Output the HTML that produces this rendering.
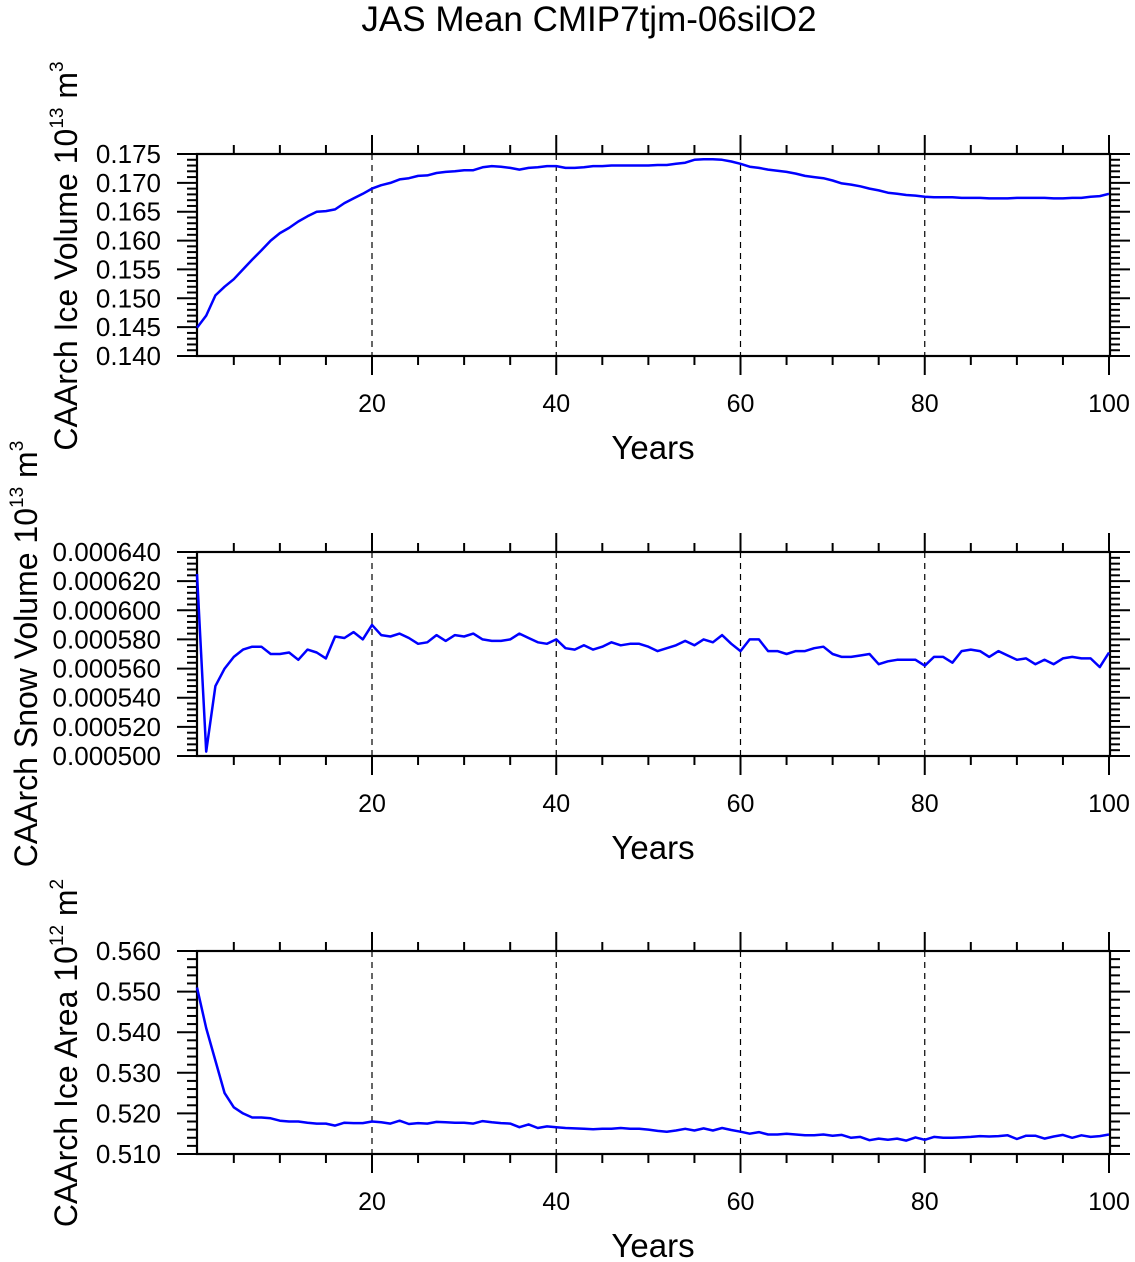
<!DOCTYPE html>
<html><head><meta charset="utf-8"><style>
html,body{margin:0;padding:0;background:#fff}
svg{display:block}
text{font-family:"Liberation Sans",Helvetica,Arial,sans-serif;fill:#000}
</style></head><body>
<svg id="s" width="1135" height="1262" viewBox="0 0 1135 1262" xmlns="http://www.w3.org/2000/svg">
<text x="589" y="31" font-size="35" text-anchor="middle">JAS Mean CMIP7tjm-06silO2</text>
</svg>
<script>
const S=document.getElementById('s');let h='';
const X0=197,X1=1110;const xs=y=>187.75+9.2125*y;
function panel(top,bot,vmin,vmax,nmaj,nsub,fmt,data,title,tx,sup){
  const yv=v=>bot-(v-vmin)/(vmax-vmin)*(bot-top);
  [20,40,60,80].forEach(y=>{h+=`<line x1="${xs(y)}" y1="${top}" x2="${xs(y)}" y2="${bot}" stroke="#000" stroke-width="1.2" stroke-dasharray="6,5"/>`;});
  for(let y=5;y<=100;y+=5){const x=xs(y);const maj=y%20==0;const L=maj?19:9;
    h+=`<line x1="${x}" y1="${top}" x2="${x}" y2="${top-L}" stroke="#000" stroke-width="2"/><line x1="${x}" y1="${bot}" x2="${x}" y2="${bot+L}" stroke="#000" stroke-width="2"/>`;
    if(maj)h+=`<text x="${x}" y="${bot+56}" font-size="25" text-anchor="middle">${y}</text>`;}
  const nm=nmaj*nsub;
  for(let i=0;i<=nm;i++){const v=vmin+(vmax-vmin)*i/nm;const y=yv(v);const maj=i%nsub==0;const L=maj?20:10;
    h+=`<line x1="${X0-L}" y1="${y}" x2="${X0}" y2="${y}" stroke="#000" stroke-width="2"/><line x1="${X1}" y1="${y}" x2="${X1+L}" y2="${y}" stroke="#000" stroke-width="2"/>`;
    if(maj)h+=`<text x="161" y="${y+9}" font-size="26" text-anchor="end">${fmt(v)}</text>`;}
  h+=`<rect x="${X0}" y="${top}" width="${X1-X0}" height="${bot-top}" fill="none" stroke="#000" stroke-width="2.2"/>`;
  h+=`<polyline fill="none" stroke="#0000ff" stroke-width="2.5" stroke-linejoin="round" points="${data.map((v,i)=>xs(i+1).toFixed(1)+','+yv(v).toFixed(1)).join(' ')}"/>`;
  h+=`<text x="653" y="${bot+103}" font-size="33" text-anchor="middle">Years</text>`;
  const cy=(title[1]);
  h+=`<text transform="translate(${tx},${cy}) rotate(-90)" font-size="32" text-anchor="middle">${title[0]} 10<tspan font-size="19" dy="-14">${sup[0]}</tspan><tspan dy="14"> m</tspan><tspan font-size="19" dy="-14">${sup[1]}</tspan></text>`;
}
const d1=[0.1449,0.147,0.1505,0.152,0.1533,0.155,0.1567,0.1583,0.160,0.1613,0.1622,0.1633,0.1642,0.165,0.1651,0.1654,0.1665,0.1673,0.1681,0.169,0.1696,0.17,0.1706,0.1708,0.1712,0.1713,0.1717,0.1719,0.172,0.1722,0.1722,0.1727,0.1729,0.1728,0.1726,0.1723,0.1726,0.1727,0.1729,0.1729,0.1726,0.1726,0.1727,0.1729,0.1729,0.173,0.173,0.173,0.173,0.173,0.1731,0.1731,0.1733,0.1735,0.174,0.1741,0.1741,0.174,0.1737,0.1733,0.1728,0.1726,0.1723,0.1721,0.1719,0.1716,0.1712,0.171,0.1708,0.1704,0.1699,0.1697,0.1694,0.169,0.1687,0.1683,0.1681,0.1679,0.1678,0.1676,0.1675,0.1675,0.1675,0.1674,0.1674,0.1674,0.1673,0.1673,0.1673,0.1674,0.1674,0.1674,0.1674,0.1673,0.1673,0.1674,0.1674,0.1676,0.1677,0.1681];
const d2=[625,503,548,560,568,573,575,575,570,570,571,566,573,571,567,582,581,585,580,590,583,582,584,581,577,578,583,579,583,582,584,580,579,579,580,584,581,578,577,580,574,573,576,573,575,578,576,577,577,575,572,574,576,579,576,580,578,583,577,572,580,580,572,572,570,572,572,574,575,570,568,568,569,570,563,565,566,566,566,562,568,568,564,572,573,572,568,572,569,566,567,563,566,563,567,568,567,567,561,571].map(v=>v*1e-6);
const d3=[0.551,0.541,0.533,0.525,0.5215,0.520,0.519,0.519,0.5188,0.5182,0.518,0.518,0.5177,0.5175,0.5175,0.517,0.5177,0.5176,0.5176,0.518,0.5178,0.5175,0.5182,0.5174,0.5176,0.5175,0.5179,0.5178,0.5177,0.5177,0.5175,0.5181,0.5178,0.5176,0.5175,0.5166,0.5173,0.5164,0.5168,0.5166,0.5164,0.5163,0.5162,0.5161,0.5162,0.5162,0.5164,0.5162,0.5162,0.516,0.5157,0.5155,0.5158,0.5162,0.5158,0.5163,0.5158,0.5164,0.5159,0.5155,0.515,0.5154,0.5148,0.5148,0.515,0.5148,0.5146,0.5146,0.5148,0.5145,0.5147,0.514,0.5142,0.5134,0.5138,0.5135,0.5138,0.5133,0.5141,0.5135,0.5142,0.514,0.514,0.5141,0.5142,0.5144,0.5143,0.5144,0.5146,0.5137,0.5145,0.5145,0.5138,0.5143,0.5147,0.514,0.5146,0.5142,0.5144,0.5148];
panel(154,356,0.140,0.175,7,5,v=>v.toFixed(3),d1,["CAArch Ice Volume",256],77,["13","3"]);
panel(552,756,0.0005,0.00064,7,5,v=>v.toFixed(6),d2,["CAArch Snow Volume",654],37,["13","3"]);
panel(951,1154,0.51,0.56,5,5,v=>v.toFixed(3),d3,["CAArch Ice Area",1053],77,["12","2"]);
S.insertAdjacentHTML('beforeend',h);
</script>
</body></html>
